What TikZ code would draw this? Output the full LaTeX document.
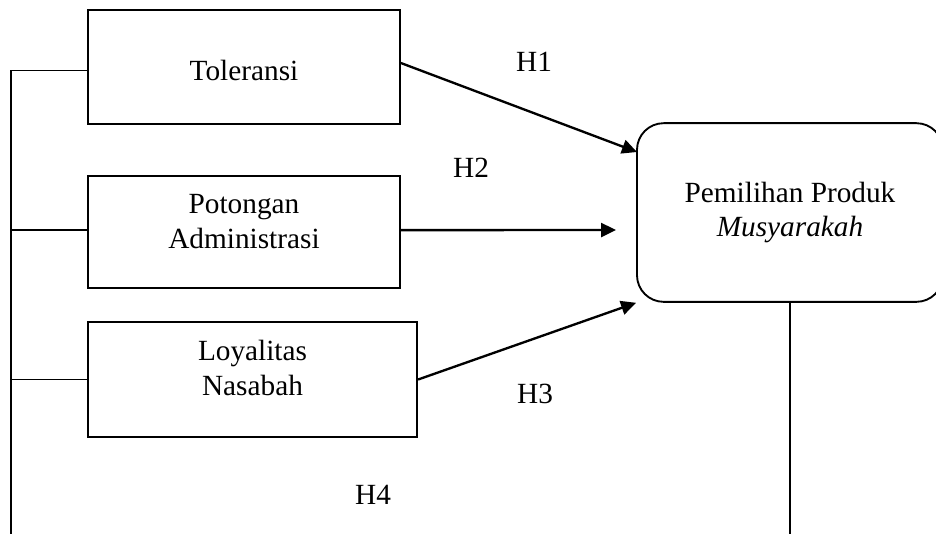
\documentclass[tikz,border=0pt]{standalone}
\usepackage{fontspec}
\setmainfont{Liberation Serif}
\usepackage{tikz}
\usetikzlibrary{arrows.meta, positioning, calc}

\begin{document}
\begin{tikzpicture}[
    x=0.015cm, y=-0.015cm,
    font=\fontsize{12.5}{14.9}\selectfont,
    varbox/.style={rectangle, draw, line width=0.8pt, align=center, inner sep=0pt},
    resultbox/.style={rectangle, draw, line width=0.8pt, rounded corners=0.4cm, align=center, inner sep=0pt},
    hyp/.style={-{Triangle[length=6.4pt, width=6pt]}, line width=1pt},
    link/.style={line width=0.7pt},
    hlabel/.style={inner sep=0pt}
]
\useasboundingbox (0,0) rectangle (936,534);

\node[varbox, minimum width=4.68cm, minimum height=1.71cm, text height=12pt] (tol) at (244,67)
    {Toleransi};
\node[varbox, minimum width=4.68cm, minimum height=1.68cm, text depth=9pt] (pot) at (244,232)
    {Potongan\\Administrasi};
\node[varbox, minimum width=4.94cm, minimum height=1.72cm, text depth=10pt] (loy) at (252.5,379.5)
    {Loyalitas\\Nasabah};
\node[resultbox, minimum width=4.59cm, minimum height=2.68cm] (pem) at (790,212.5)
    {Pemilihan Produk\\\textit{Musyarakah}};

\coordinate (h1end) at (637,152);
\coordinate (h2end) at (616,230);
\coordinate (spine) at (11,534);

% hipotesis
\draw[hyp] ([yshift=1.7pt]tol.east) -- (h1end);
\draw[hyp] ([yshift=0.8pt]pot.east) -- (h2end);
\draw[hyp] (loy.east) -- (pem.south west);

\node[hlabel] (h1) at (534,62) {H1};
\node[hlabel] (h2) at (471,168) {H2};
\node[hlabel] (h3) at (535,394) {H3};
\node[hlabel] (h4) at (373,495) {H4};

% garis H4
\draw[link] ([yshift=-1.5pt]tol.west) -| (spine);
\draw[link] ([yshift=0.8pt]pot.west) -- ([yshift=0.8pt]pot.west -| spine);
\draw[link] (loy.west) -- (loy.west -| spine);
\draw[link] (pem.south) -- (pem.south |- spine);

\end{tikzpicture}
\end{document}
